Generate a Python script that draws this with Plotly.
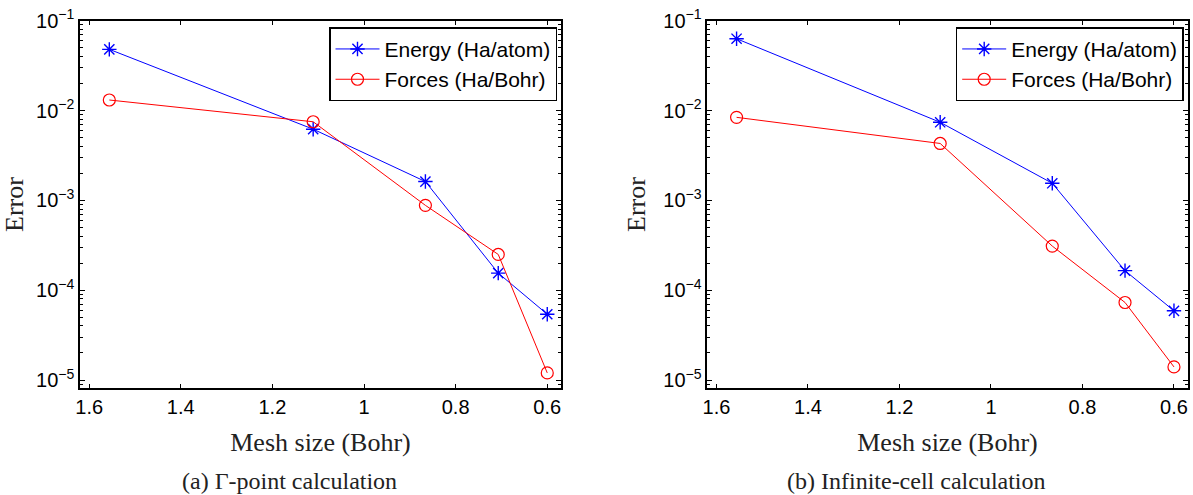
import plotly.graph_objects as go

# Mesh sizes (Bohr) shared by both studies
mesh = [1.556, 1.111, 0.866, 0.707, 0.600]

# (a) Gamma-point calculation
gamma_energy = [4.8e-2, 6.2e-3, 1.62e-3, 1.55e-4, 5.4e-5]
gamma_forces = [1.31e-2, 7.5e-3, 8.8e-4, 2.5e-4, 1.2e-5]

# (b) Infinite-cell calculation
inf_energy = [6.3e-2, 7.4e-3, 1.55e-3, 1.65e-4, 5.9e-5]
inf_forces = [8.4e-3, 4.3e-3, 3.1e-4, 7.3e-5, 1.4e-5]

x_ticks = [1.6, 1.4, 1.2, 1.0, 0.8, 0.6]
x_ticktext = ["1.6", "1.4", "1.2", "1", "0.8", "0.6"]
y_exponents = [-5, -4, -3, -2, -1]

series_names = ["Energy (Ha/atom)", "Forces (Ha/Bohr)"]
captions = ["(a) Γ-point calculation", "(b) Infinite-cell calculation"]

W, H = 1193, 495
SANS = "Liberation Sans, Arial, Helvetica, sans-serif"
SERIF = "Liberation Serif, Times New Roman, serif"

y_major = [10.0 ** e for e in y_exponents]
y_major_text = ["10<sup>−%d</sup>" % (-e) for e in y_exponents]
y_minor = [m * 10.0 ** e for e in [-6] + y_exponents[:-1] for m in range(2, 10)]
y_minor = [v for v in y_minor if 8e-6 <= v <= 0.1]

# panel geometry in pixels: left, right, top, bottom
panels = [(80, 561, 20.7, 388.3), (707.3, 1187.7, 20.7, 388.3)]

fig = go.Figure()

data_sets = [(gamma_energy, gamma_forces), (inf_energy, inf_forces)]
for i, (energy, forces) in enumerate(data_sets):
    xa = "x" if i == 0 else "x2"
    ya = "y" if i == 0 else "y2"
    lg = "legend" if i == 0 else "legend2"
    fig.add_trace(go.Scatter(
        x=mesh, y=energy, mode="lines+markers", name=series_names[0],
        xaxis=xa, yaxis=ya, legend=lg,
        line=dict(color="#0000ff", width=1),
        marker=dict(symbol="asterisk-open", size=12,
                    line=dict(color="#0000ff", width=1.4)),
    ))
    fig.add_trace(go.Scatter(
        x=mesh, y=forces, mode="lines+markers", name=series_names[1],
        xaxis=xa, yaxis=ya, legend=lg,
        line=dict(color="#ff0000", width=1),
        marker=dict(symbol="circle-open", size=12,
                    line=dict(color="#ff0000", width=1.2)),
    ))

layout = dict(
    width=W, height=H,
    margin=dict(l=0, r=0, t=0, b=0, autoexpand=False),
    paper_bgcolor="white", plot_bgcolor="white",
    showlegend=True,
    font=dict(family=SANS, size=20, color="black"),
)

for i, (l, r, t, b) in enumerate(panels):
    sfx = "" if i == 0 else "2"
    layout["xaxis" + sfx] = dict(
        domain=[l / W, r / W],
        anchor="y" + sfx,
        automargin=False,
        range=[1.62, 0.57],
        tickmode="array", tickvals=x_ticks, ticktext=x_ticktext,
        ticks="inside", ticklen=5, tickwidth=1, tickcolor="black",
        showline=True, linecolor="black", linewidth=1.5, mirror="ticks",
        showgrid=False, zeroline=False,
        tickfont=dict(family=SANS, size=20, color="black"),
        title=dict(text="Mesh size (Bohr)", standoff=16,
                   font=dict(family=SERIF, size=26, color="#222")),
    )
    layout["yaxis" + sfx] = dict(
        domain=[1 - b / H, 1 - t / H],
        anchor="x" + sfx,
        automargin=False,
        type="log",
        range=[-5.092, -1],
        tickmode="array", tickvals=y_major, ticktext=y_major_text,
        ticks="inside", ticklen=5, tickwidth=1, tickcolor="black",
        minor=dict(tickmode="array", tickvals=y_minor, ticks="inside",
                   ticklen=3, tickwidth=1, tickcolor="black", showgrid=False),
        showline=True, linecolor="black", linewidth=1.5, mirror="ticks",
        showgrid=False, zeroline=False,
        tickfont=dict(family=SANS, size=20, color="black"),
        title=dict(text="Error", standoff=10,
                   font=dict(family=SERIF, size=26, color="#222")),
    )
    leg = dict(
        x=(r - 4) / W, xanchor="right",
        y=1 - (t + 6.6) / H, yanchor="top",
        bgcolor="white", bordercolor="black", borderwidth=1.5,
        font=dict(family=SANS, size=21, color="black"),
        itemwidth=44, traceorder="normal",
    )
    layout["legend" if i == 0 else "legend2"] = leg

fig.update_layout(**layout)

caption_x = [289.5, 916]
for cx, text in zip(caption_x, captions):
    fig.add_annotation(
        x=cx / W, y=1 - 481 / H, xref="paper", yref="paper",
        xanchor="center", yanchor="middle", showarrow=False,
        text=text, font=dict(family=SERIF, size=24, color="#222"),
    )

fig.write_html("out.html")
